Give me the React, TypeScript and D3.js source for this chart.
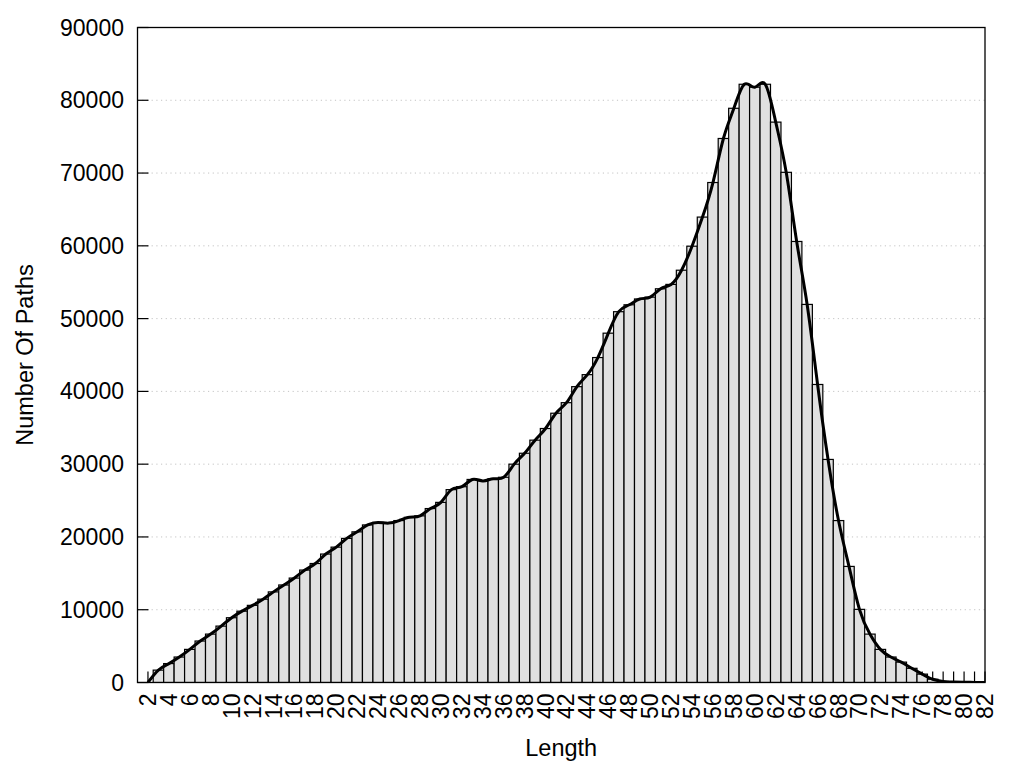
import React from "react";
import * as d3 from "d3";

const lengths: number[] = d3.range(2, 83);
const counts: number[] = [
  0, 1700, 2600, 3500, 4550, 5700, 6650, 7750, 8900, 9800,
  10600, 11450, 12450, 13400, 14350, 15450, 16350, 17650, 18600, 19800,
  20700, 21650, 22000, 21900, 22250, 22700, 22900, 23900, 24750, 26500,
  26900, 27900, 27700, 28000, 28200, 30000, 31500, 33300, 34900, 37000,
  38450, 40650, 42300, 44650, 48000, 50950, 51900, 52700, 52950, 54100,
  54700, 56650, 59950, 63950, 68700, 74750, 78900, 82200, 81800, 82200,
  77000, 70100, 60600, 51950, 40950, 30650, 22250, 15950, 10050, 6650,
  4550, 3500, 2800, 1950, 1150, 450, 150, 60, 30, 10, 0,
];
const yTicks: number[] = d3.range(0, 90001, 10000);
const xTickLabels: number[] = d3.range(2, 83, 2);

const W = 1024;
const H = 768;
const left = 137.5;
const right = 985;
const top = 27.5;
const bottom = 682.5;
const FONT = "'Liberation Sans', Arial, sans-serif";

export default function App() {
  const x = d3.scaleLinear().domain([1, 82]).range([left, right]);
  const y = d3.scaleLinear().domain([0, 90000]).range([bottom, top]);
  const data = lengths.map((l, i) => ({ l, v: counts[i] }));
  const line = d3
    .line<{ l: number; v: number }>()
    .x((d) => x(d.l))
    .y((d) => y(d.v))
    .curve(d3.curveNatural);

  return (
    <svg
      width={W}
      height={H}
      style={{ position: "absolute", left: 0, top: 0, background: "#fff" }}
      fontFamily={FONT}
    >
      <defs>
        <clipPath id="plot">
          <rect x={left} y={top} width={right - left} height={bottom - top} />
        </clipPath>
      </defs>
      {yTicks.slice(1, -1).map((t) => (
        <line
          key={"g" + t}
          x1={left}
          x2={right}
          y1={y(t)}
          y2={y(t)}
          stroke="#c4c4c4"
          strokeWidth={1}
          strokeDasharray="1.2,3.5"
        />
      ))}
      {lengths.map((l) => (
        <line
          key={"xt" + l}
          x1={x(l)}
          x2={x(l)}
          y1={bottom}
          y2={bottom - 11}
          stroke="#000"
          strokeWidth={1.2}
        />
      ))}
      {yTicks.map((t) => (
        <line
          key={"yt" + t}
          x1={left}
          x2={left + 11}
          y1={y(t)}
          y2={y(t)}
          stroke="#000"
          strokeWidth={1.2}
        />
      ))}
      <g clipPath="url(#plot)">
        {data
          .filter((d) => d.v > 0)
          .map((d) => (
            <rect
              key={"b" + d.l}
              x={x(d.l - 0.5)}
              width={x(d.l + 0.5) - x(d.l - 0.5)}
              y={y(d.v)}
              height={bottom - y(d.v)}
              fill="#e0e0e0"
              stroke="#000"
              strokeWidth={1.2}
            />
          ))}
        <path
          d={line(data) || ""}
          fill="none"
          stroke="#000"
          strokeWidth={3}
          strokeLinejoin="round"
        />
      </g>
      <rect
        x={left}
        y={top}
        width={right - left}
        height={bottom - top}
        fill="none"
        stroke="#000"
        strokeWidth={1.3}
      />
      {yTicks.map((t) => (
        <text
          key={"yl" + t}
          x={124}
          y={y(t)}
          textAnchor="end"
          dominantBaseline="central"
          fontSize={23}
        >
          {t}
        </text>
      ))}
      {xTickLabels.map((t) => (
        <text
          key={"xl" + t}
          transform={`translate(${x(t)},${bottom + 11}) rotate(-90)`}
          textAnchor="end"
          dominantBaseline="central"
          fontSize={23}
        >
          {t}
        </text>
      ))}
      <text
        x={(left + right) / 2}
        y={756}
        textAnchor="middle"
        fontSize={23.5}
      >
        Length
      </text>
      <text
        transform={`translate(33,${(top + bottom) / 2}) rotate(-90)`}
        textAnchor="middle"
        fontSize={23.5}
      >
        Number Of Paths
      </text>
    </svg>
  );
}
